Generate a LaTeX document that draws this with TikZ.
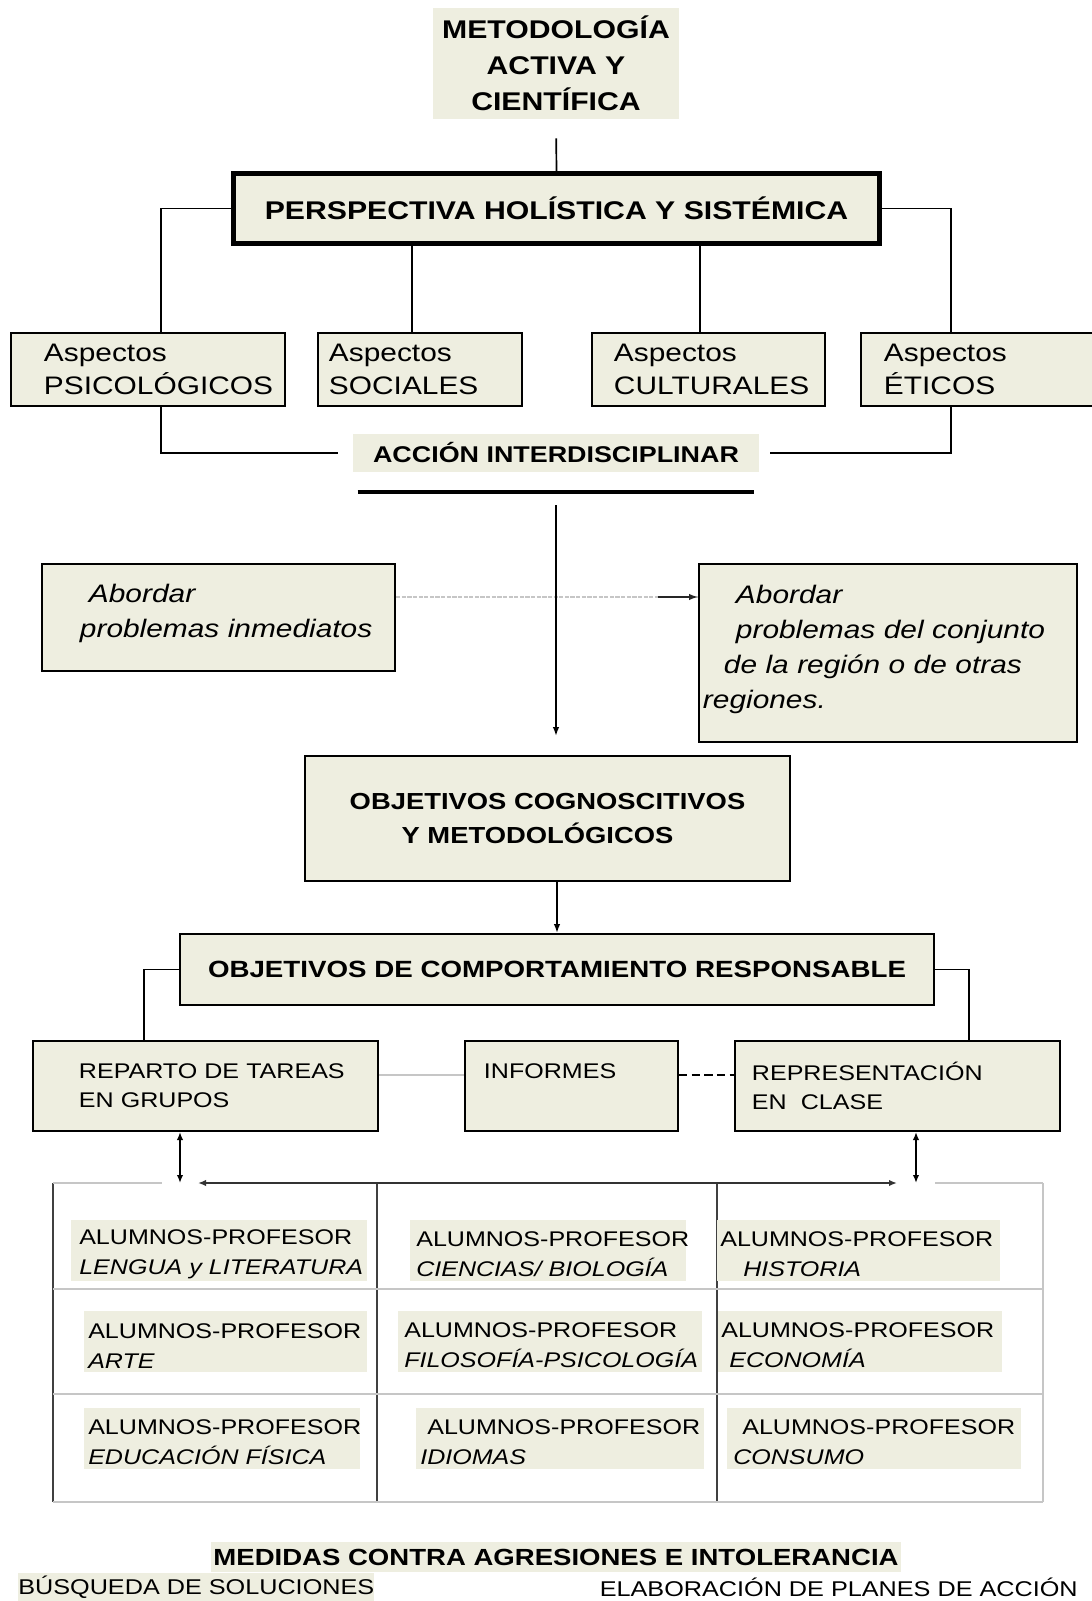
\documentclass[tikz,border=0pt]{standalone}
\usepackage{fontspec}
\setmainfont[FakeStretch=1.18]{Liberation Sans}
\usetikzlibrary{arrows.meta, positioning, calc}
\definecolor{Paper}{HTML}{EEEEE0}
\hyphenpenalty=10000
\exhyphenpenalty=10000

\begin{document}
\begin{tikzpicture}[
    x=0.025cm, y=-0.025cm,
    shade_box/.style={
        fill=Paper,
        inner sep=0pt
    },
    box/.style={
        draw=black,
        line width=1.4pt,
        fill=Paper,
        align=left,
        inner ysep=0pt
    },
    aspect_box/.style={
        box,
        minimum height=1.825cm,
        font=\fontsize{18}{23.5}\selectfont
    },
    task_box/.style={
        box,
        minimum height=2.25cm,
        font=\fontsize{15.1}{20.6}\selectfont
    },
    cell_label/.style={
        fill=Paper,
        anchor=north west,
        align=left,
        inner ysep=0pt,
        text height=16pt,
        minimum height=1.525cm,
        font=\fontsize{15.1}{21.3}\selectfont
    },
    link_line/.style={
        draw=black,
        line width=1.2pt
    },
    faint_line/.style={
        draw=gray!45,
        line width=1.2pt
    },
    grid_line/.style={
        draw=black!75,
        line width=0.8pt
    },
    arrow_line/.style={
        -{Latex[length=2.2mm, width=1.6mm]},
        line width=1.2pt,
        color=black
    },
    both_arrow/.style={
        {Latex[length=2mm, width=1.6mm]}-{Latex[length=2mm, width=1.6mm]},
        line width=1.2pt,
        color=black
    }
]
\useasboundingbox (0,0) rectangle (1091,1601);

% =========================
% TOP
% =========================
\node[shade_box, align=center, minimum width=6.125cm, minimum height=2.775cm,
      font=\bfseries\fontsize{18.2}{25.5}\selectfont]
    (metodo) at (556,63.5) {METODOLOGÍA\\ACTIVA Y\\CIENTÍFICA};

\node[draw=black, line width=3.5pt, fill=Paper, minimum width=16.15cm, minimum height=1.75cm,
      font=\bfseries\fontsize{18.2}{22}\selectfont]
    (holis) at (556.5,208.5) {PERSPECTIVA HOLÍSTICA Y SISTÉMICA};

\draw[link_line, shorten <=0.475cm] (metodo.south) -- (holis.north);

% Aspects
\node[aspect_box, text width=5.2cm, inner xsep=0.825cm] (psico) at (148,369.5) {Aspectos\\PSICOLÓGICOS};
\node[aspect_box, text width=4.55cm, inner xsep=0.275cm] (socia) at (420,369.5) {Aspectos\\SOCIALES};
\node[aspect_box, text width=4.725cm, inner xsep=0.55cm] (cultu) at (708.5,369.5) {Aspectos\\CULTURALES};
\node[aspect_box, text width=4.825cm, inner xsep=0.575cm] (etico) at (980.5,369.5) {Aspectos\\ÉTICOS};

\coordinate (psiTop) at ($(psico.north)+(13,0)$);
\coordinate (psiBot) at ($(psico.south)+(13,0)$);
\coordinate (socTop) at ($(socia.north)+(-8,0)$);
\coordinate (culTop) at ($(cultu.north)+(-8.5,0)$);
\coordinate (etiTop) at ($(etico.north)+(-29.5,0)$);
\coordinate (etiBot) at ($(etico.south)+(-29.5,0)$);

\draw[link_line] (holis.west) -| (psiTop);
\draw[link_line] (holis.east) -| (etiTop);
\draw[link_line] (holis.south -| socTop) -- (socTop);
\draw[link_line] (holis.south -| culTop) -- (culTop);

\node[shade_box, minimum width=10.125cm, minimum height=0.95cm,
      font=\bfseries\fontsize{16.2}{20}\selectfont]
    (accion) at (556,453) {ACCIÓN INTERDISCIPLINAR};
\draw[line width=2.8pt] ($(accion.south west)+(4.5,20)$) -- ($(accion.south east)+(-4.5,20)$);

\draw[link_line, shorten >=0.375cm] (psiBot) |- (accion.west);
\draw[link_line, shorten >=0.275cm] (etiBot) |- (accion.east);

% =========================
% MIDDLE
% =========================
\node[box, text width=6.925cm, inner xsep=0.95cm, minimum height=2.675cm, text height=7.4pt,
      font=\itshape\fontsize{18}{24.9}\selectfont]
    (inmed) at (218.5,617.5) {\hspace*{0.225cm}Abordar\\problemas~inmediatos};
\node[box, text width=9.25cm, inner xsep=0.1cm, minimum height=4.45cm, text height=7.4pt,
      font=\itshape\fontsize{18}{24.9}\selectfont]
    (region) at (888,653)
    {\hspace*{0.825cm}Abordar\\\hspace*{0.825cm}problemas~del~conjunto\\\hspace*{0.525cm}de~la~región~o~de~otras\\regiones.};

\coordinate (abA) at ($(inmed.east)+(0,-20.5)$);
\draw[faint_line, dash pattern=on 3pt off 1pt] (abA) -- (abA -| region.west);
\draw[arrow_line, color=gray!30!black] ($(abA -| region.west)+(-40,0)$) -- (abA -| region.west);

\node[box, align=center, minimum width=12.125cm, minimum height=3.125cm,
      font=\bfseries\fontsize{16.5}{23.5}\selectfont]
    (objcog) at (547.5,818.5) {OBJETIVOS COGNOSCITIVOS\\Y METODOLÓGICOS\hspace*{0.5cm}};

\draw[arrow_line, shorten <=0.825cm, shorten >=0.475cm] (accion.south) -- (accion.south |- objcog.north);

\node[box, align=center, minimum width=18.85cm, minimum height=1.775cm,
      font=\bfseries\fontsize{16.7}{20}\selectfont]
    (objcomp) at (557,969.5) {OBJETIVOS DE COMPORTAMIENTO RESPONSABLE};

\draw[arrow_line] (objcog.south -| objcomp.north) -- (objcomp.north);

% Tasks
\node[task_box, text width=6.325cm, inner xsep=1.15cm] (reparto) at (205.5,1086) {REPARTO~DE~TAREAS\\EN~GRUPOS};
\node[task_box, text width=4.375cm, inner xsep=0.475cm] (informes) at (571.5,1086) {INFORMES\\\mbox{}};
\node[task_box, text width=7.275cm, inner xsep=0.425cm] (repres) at (897.5,1086) {REPRESENTACIÓN\\EN~~CLASE};

\coordinate (repA) at ($(reparto.north)+(-61.5,0)$);
\coordinate (repB) at ($(repres.north)+(71.5,0)$);
\draw[link_line] (objcomp.west) -| (repA);
\draw[link_line] (objcomp.east) -| (repB);

\draw[faint_line] ($(reparto.east)+(0,-11)$) -- ($(informes.west)+(0,-11)$);
\draw[link_line, dash pattern=on 6pt off 3pt] ($(informes.east)+(0,-11)$) -- ($(repres.west)+(0,-11)$);

% =========================
% TABLE
% =========================
\coordinate (tabNW) at (53,1183);
\coordinate (tabSE) at (1043,1502);

\foreach \gx in {377,717}
    \draw[grid_line] (\gx,1183) -- (\gx,1502);
\draw[grid_line] (tabNW) -- (tabNW |- tabSE);
\draw[faint_line] (tabSE |- tabNW) -- (tabSE);
\foreach \gy in {1289,1394,1502}
    \draw[faint_line] (53,\gy) -- (1043,\gy);
\draw[faint_line] (tabNW) -- (162,1183);
\draw[faint_line] (935,1183) -- (tabSE |- tabNW);

\coordinate (dA) at ($(reparto.south)+(-25.5,0)$);
\coordinate (dB) at ($(repres.south)+(18.5,0)$);
\draw[both_arrow] (dA) -- (dA |- tabNW);
\draw[both_arrow] (dB) -- (dB |- tabNW);
\draw[both_arrow, line width=2pt, color=gray!40!black]
    ($(dA |- tabNW)+(18,0)$) -- ($(dB |- tabNW)+(-19,0)$);

\node[cell_label, text width=7.0cm, inner xsep=0.2cm] (c11) at (71,1220) {ALUMNOS-PROFESOR\\\textit{LENGUA~y~LITERATURA}};
\node[cell_label, text width=6.6cm, inner xsep=0.15cm] (c12) at (410,1220) {ALUMNOS-PROFESOR\\\textit{CIENCIAS/~BIOLOGÍA}};
\node[cell_label, text width=6.925cm, inner xsep=0.075cm] (c13) at (717,1220) {ALUMNOS-PROFESOR\\\hspace*{0.575cm}\textit{HISTORIA}};

\node[cell_label, text width=6.875cm, inner xsep=0.1cm] (c21) at (84,1311) {ALUMNOS-PROFESOR\\\textit{ARTE}};
\node[cell_label, text width=7.3cm, inner xsep=0.15cm] (c22) at (398,1311) {ALUMNOS-PROFESOR\\\textit{FILOSOFÍA-PSICOLOGÍA}};
\node[cell_label, text width=6.95cm, inner xsep=0.075cm] (c23) at (718,1311) {ALUMNOS-PROFESOR\\\hspace*{0.2cm}\textit{ECONOMÍA}};

\node[cell_label, text width=6.7cm, inner xsep=0.1cm] (c31) at (84,1408) {ALUMNOS-PROFESOR\\\textit{EDUCACIÓN~FÍSICA}};
\node[cell_label, text width=7.0cm, inner xsep=0.1cm] (c32) at (416,1408) {\hspace*{0.175cm}ALUMNOS-PROFESOR\\\textit{IDIOMAS}};
\node[cell_label, text width=7.05cm, inner xsep=0.15cm] (c33) at (727,1408) {\hspace*{0.225cm}ALUMNOS-PROFESOR\\\textit{CONSUMO}};

% =========================
% BOTTOM
% =========================
\node[shade_box, minimum width=17.25cm, minimum height=0.75cm,
      font=\bfseries\fontsize{16.6}{20}\selectfont]
    (medidas) at (556,1557) {MEDIDAS CONTRA AGRESIONES E INTOLERANCIA};
\node[shade_box, anchor=west, inner ysep=2pt, font=\fontsize{15.2}{18}\selectfont]
    (busqueda) at (18,1587) {BÚSQUEDA DE SOLUCIONES};
\node[anchor=east, inner sep=0pt, font=\fontsize{15.2}{18}\selectfont]
    (planes) at (1078,1587) {ELABORACIÓN DE PLANES DE ACCIÓN};

\end{tikzpicture}
\end{document}
